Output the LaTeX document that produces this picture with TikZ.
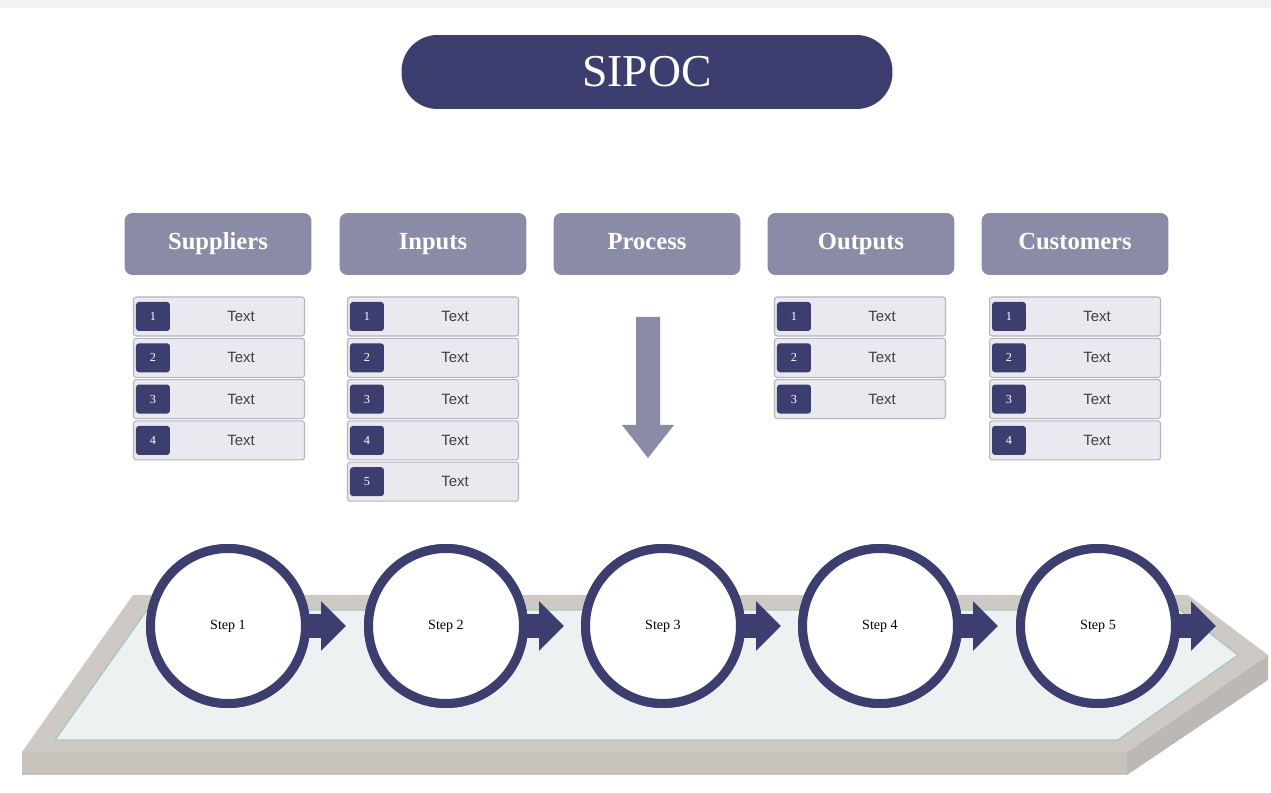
\documentclass[tikz,border=0pt]{standalone}
\usepackage{fontspec}
\setmainfont{Liberation Serif}
\newfontfamily\textsans{Liberation Sans}
\usetikzlibrary{arrows.meta}

\definecolor{navy}{HTML}{3B3E6E}
\definecolor{headgray}{HTML}{8A8BA6}
\definecolor{rowfill}{HTML}{E9E9EF}
\definecolor{rowline}{HTML}{B4B4BE}
\definecolor{slabtop}{HTML}{CFC9C4}
\definecolor{slabside}{HTML}{C8C2BD}
\definecolor{slabface}{HTML}{EEF1F1}
\definecolor{slabedge}{HTML}{A9C7C5}

\begin{document}
\begin{tikzpicture}[x=0.02cm, y=-0.02cm,
    titlebox/.style={fill=navy, rounded corners=0.72cm, minimum width=9.82cm, minimum height=1.48cm, text=white, font=\fontsize{26}{30}\selectfont},
    headbox/.style={fill=headgray, rounded corners=0.16cm, minimum width=3.74cm, minimum height=1.24cm, text height=0.7em, text depth=0.05em, text=white, font=\bfseries\fontsize{14}{16}\selectfont},
    itembox/.style={draw=rowline, fill=rowfill, line width=0.6pt, rounded corners=0.05cm, minimum width=3.42cm, minimum height=0.78cm},
    badge/.style={fill=navy, rounded corners=0.06cm, minimum width=0.68cm, minimum height=0.58cm, inner sep=0pt, text=white, font=\fontsize{7}{8}\selectfont},
    itemtext/.style={text=black!75, font=\textsans\fontsize{8.5}{10}\selectfont},
    stepcircle/.style={circle, draw=navy, line width=0.18cm, fill=white, minimum size=3.1cm, font=\fontsize{8}{9}\selectfont},
    stepflow/.style={navy, line width=0.48cm, -{Triangle[width=0.96cm, length=0.5cm]}}]
\useasboundingbox (0,0) rectangle (1271,793);
\fill[black!5] (0,0) rectangle (1271,8);

% Title
\node[titlebox] (title) at (647,72) {SIPOC};

% Column headers
\node[headbox] (suppliers) at (218,244) {Suppliers};
\node[headbox] (inputs) at (433,244) {Inputs};
\node[headbox] (process) at (647,244) {Process};
\node[headbox] (outputs) at (861,244) {Outputs};
\node[headbox] (customers) at (1075,244) {Customers};

% Item lists
\foreach \cx/\nm/\n in {219/sup/4, 433/inp/5, 860/out/3, 1075/cus/4} {
  \foreach \i in {1,...,\n} {
    \node[itembox] (\nm\i) at (\cx, {316.5+41.3*(\i-1)}) {};
    \node[badge] (\nm\i num) at ([xshift=0.4cm]\nm\i.west) {\i};
    \node[itemtext] (\nm\i txt) at ([xshift=0.44cm]\nm\i.center) {Text};
  }
}

% Process arrow
\fill[headgray] (636,317) -- (660,317) -- (660,425) -- (674,425) -- (648,458)
  -- (622,425) -- (636,425) -- cycle;

% Base platform
\fill[slabside] (22,752) -- (1127,752) -- (1127,775) -- (22,775) -- cycle;
\fill[slabside!95!black] (1127,752) -- (1268,655) -- (1268,680) -- (1127,775) -- cycle;
\fill[slabtop] (133,595) -- (1188,595) -- (1268,655) -- (1127,752) -- (22,752) -- cycle;
\filldraw[fill=slabface, draw=slabedge, line width=0.8pt]
  (147,610) -- (1180,610) -- (1238,655) -- (1118,740) -- (55,740) -- cycle;

% Steps
\foreach \x [count=\i] in {228, 446, 663, 880, 1098} {
  \coordinate (tip\i) at (\x+118, 626);
  \node[stepcircle] (step\i) at (\x,626) {};
  \draw[stepflow] ([xshift=-0.1cm]step\i.east) -- (tip\i);
  \node[stepcircle] at (step\i) {Step \i};
}
\end{tikzpicture}
\end{document}
